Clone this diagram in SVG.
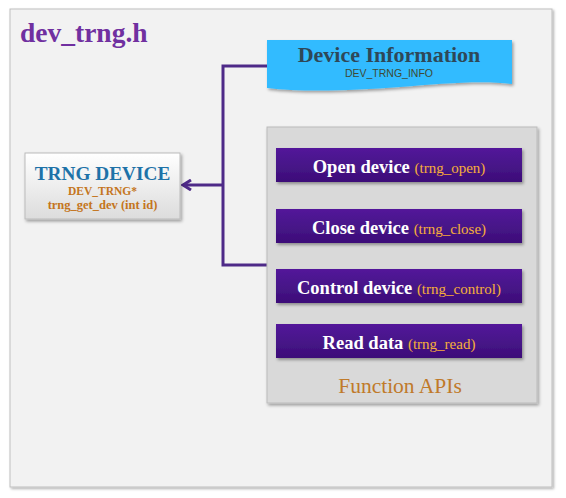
<svg xmlns="http://www.w3.org/2000/svg" width="566" height="498" viewBox="0 0 566 498">
<style>
.serif{font-family:"Liberation Serif","DejaVu Serif",serif;font-weight:bold}
.btn{fill:url(#btnGrad);filter:url(#sh)}
.btnT{font-family:"Liberation Serif","DejaVu Serif",serif;font-weight:bold;font-size:18.5px;fill:#FFFFFF}
.btnS{font-weight:normal;font-size:15px;fill:#F7AE3A}
.conn{fill:none;stroke:#4E2A88;stroke-width:3}
</style>
<defs>
<filter id="sh" x="-10%" y="-20%" width="130%" height="160%">
<feDropShadow dx="1.5" dy="2" stdDeviation="1.5" flood-color="#000" flood-opacity="0.35"/>
</filter>
<filter id="shL" x="-5%" y="-5%" width="110%" height="110%">
<feDropShadow dx="1.5" dy="1.5" stdDeviation="1.2" flood-color="#000" flood-opacity="0.3"/>
</filter>
<linearGradient id="btnGrad" x1="0" y1="0" x2="0" y2="1">
<stop offset="0" stop-color="#53189A"/>
<stop offset="1" stop-color="#3C0F78"/>
</linearGradient>
<linearGradient id="boxGrad" x1="0" y1="0" x2="0" y2="1">
<stop offset="0" stop-color="#FFFFFF"/>
<stop offset="1" stop-color="#DCDCDC"/>
</linearGradient>
<marker id="arr" viewBox="0 0 12 12" refX="10" refY="6" markerWidth="12" markerHeight="12" markerUnits="userSpaceOnUse" orient="auto">
<path d="M2,1 L10,6 L2,11" fill="none" stroke="#4E2A88" stroke-width="3"/>
</marker>
</defs>

<g id="frame">
<rect x="10" y="9" width="542" height="478" fill="#F2F2F2" stroke="#BFBFBF" stroke-width="1" filter="url(#shL)"/>
<text x="20" y="42" class="serif" font-size="27.5" fill="#7030A0">dev_trng.h</text>
</g>

<g id="connectors">
<path class="conn" d="M267,66 H223 V265 H267"/>
<path class="conn" d="M223,185 H183" marker-end="url(#arr)"/>
</g>

<g id="trng-device">
<rect x="25" y="153" width="155" height="66" fill="url(#boxGrad)" stroke="#BBBBBB" stroke-width="1" filter="url(#sh)"/>
<text x="102.5" y="180" text-anchor="middle" class="serif" font-size="19.3" fill="#1E72A8">TRNG DEVICE</text>
<text x="102.5" y="195" text-anchor="middle" class="serif" font-size="11.5" fill="#C47520">DEV_TRNG*</text>
<text x="102.5" y="209" text-anchor="middle" class="serif" font-size="12.5" fill="#C47520">trng_get_dev (int id)</text>
</g>

<g id="device-information">
<path d="M267,40 H512 V84 C480,80 440,84 400,87 C350,91 300,92 267,88 Z" fill="#33BBFF" filter="url(#sh)"/>
<text x="389" y="62" text-anchor="middle" class="serif" font-size="22" fill="#2E4858">Device Information</text>
<text x="389" y="77" text-anchor="middle" font-family="Liberation Sans,Arial,sans-serif" font-size="10.5" fill="#3E4A34">DEV_TRNG_INFO</text>
</g>

<g id="function-apis">
<rect x="267" y="127" width="270" height="276" fill="#D9D9D9" stroke="#BBBBBB" stroke-width="1" filter="url(#sh)"/>
<text x="400" y="393" text-anchor="middle" font-family="Liberation Serif,serif" font-size="21.5" fill="#C07A2A">Function APIs</text>
</g>

<g id="open-device">
<rect class="btn" x="276" y="148" width="246" height="34"/>
<text x="399" y="173" text-anchor="middle" class="btnT">Open device <tspan class="btnS">(trng_open)</tspan></text>
</g>

<g id="close-device">
<rect class="btn" x="276" y="209" width="246" height="34"/>
<text x="399" y="234" text-anchor="middle" class="btnT">Close device <tspan class="btnS">(trng_close)</tspan></text>
</g>

<g id="control-device">
<rect class="btn" x="276" y="269" width="246" height="34"/>
<text x="399" y="294" text-anchor="middle" class="btnT">Control device <tspan class="btnS">(trng_control)</tspan></text>
</g>

<g id="read-data">
<rect class="btn" x="276" y="324" width="246" height="34"/>
<text x="399" y="349" text-anchor="middle" class="btnT">Read data <tspan class="btnS">(trng_read)</tspan></text>
</g>
</svg>
